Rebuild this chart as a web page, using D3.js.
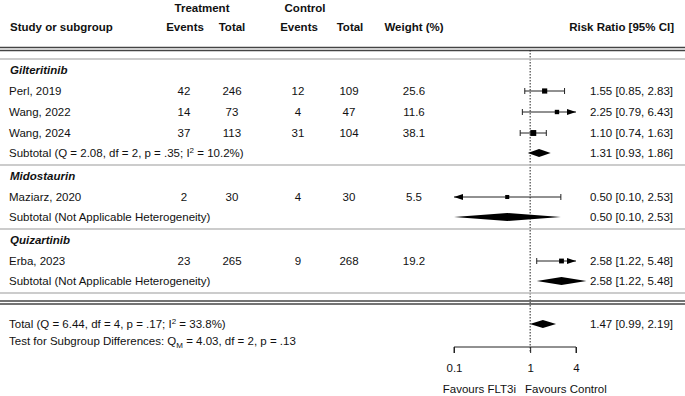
<!doctype html>
<html>
<head>
  <script src="https://cdnjs.cloudflare.com/ajax/libs/d3/7.8.5/d3.min.js"></script>
  <style>
    body { margin: 0; background: #fff; }
    text { font-family: "Liberation Sans", Arial, sans-serif; font-size: 11.5px; fill: #111; }
    .bold { font-weight: bold; }
  </style>
</head>
<body>
<svg width="685" height="396"></svg>
<script>
// subgroups
var groups = ["Gilteritinib", "Midostaurin", "Quizartinib"];
var subLabels = ["Subtotal (Q = 2.08, df = 2, p = .35; I|2| = 10.2%)",
                 "Subtotal (Not Applicable Heterogeneity)",
                 "Subtotal (Not Applicable Heterogeneity)"];
var subRR = [1.31, 0.50, 2.58];
var subLo = [0.93, 0.10, 1.22];
var subHi = [1.86, 2.53, 5.48];

// studies
var studies = ["Perl, 2019", "Wang, 2022", "Wang, 2024", "Maziarz, 2020", "Erba, 2023"];
var studyGroup = [0, 0, 0, 1, 2];
var tEvents = [42, 14, 37, 2, 23];
var tTotal = [246, 73, 113, 30, 265];
var cEvents = [12, 4, 31, 4, 9];
var cTotal = [109, 47, 104, 30, 268];
var weight = [25.6, 11.6, 38.1, 5.5, 19.2];
var rr = [1.55, 2.25, 1.10, 0.50, 2.58];
var lo = [0.85, 0.79, 0.74, 0.10, 1.22];
var hi = [2.83, 6.43, 1.63, 2.53, 5.48];

// overall
var totalLabel = "Total (Q = 6.44, df = 4, p = .17; I|2| = 33.8%)";
var testLabel = "Test for Subgroup Differences: Q_M_ = 4.03, df = 2, p = .13";
var totalRR = 1.47, totalLo = 0.99, totalHi = 2.19;

var ticks = [0.1, 1, 4];

var svg = d3.select("svg");
var x = d3.scaleLog().domain([0.1, 4]).range([454, 576]);
var sq = d3.scaleLinear().domain([5, 40]).range([4, 6]);
var fmt = d3.format(".2f");
var ciText = (r, l, h) => fmt(r) + " [" + fmt(l) + ", " + fmt(h) + "]";

// columns
var colT1 = 184, colT2 = 232, colC1 = 298, colC2 = 349, colW = 414, colRR = 673;

function txt(xp, yp, s, anchor, cls) {
  var t = svg.append("text").attr("x", xp).attr("y", yp).attr("dy", ".35em")
    .attr("text-anchor", anchor || "start");
  if (cls) t.attr("class", cls);
  // |..| superscript, _.._ subscript
  var parts = s.split(/(\|[^|]*\||_[^_]*_)/);
  var back = null;
  parts.forEach(function(p) {
    if (!p) return;
    if (p[0] === "|") {
      t.append("tspan").attr("dy", -4).style("font-size", "8px").text(p.slice(1, -1));
      back = 4;
    } else if (p[0] === "_") {
      t.append("tspan").attr("dy", 3).style("font-size", "8px").text(p.slice(1, -1));
      back = -3;
    } else {
      var ts = t.append("tspan").text(p);
      if (back) { ts.attr("dy", back); back = null; }
    }
  });
  return t;
}

function hline(yp, color, w) {
  svg.append("line").attr("x1", 0).attr("x2", 685).attr("y1", yp).attr("y2", yp)
    .attr("stroke", color).attr("stroke-width", w);
}

// header
txt(202, 8, "Treatment", "middle", "bold");
txt(305, 8, "Control", "middle", "bold");
txt(10, 27, "Study or subgroup", "start", "bold");
txt(colT1 + 1, 27, "Events", "middle", "bold");
txt(colT2, 27, "Total", "middle", "bold");
txt(colC1 + 1, 27, "Events", "middle", "bold");
txt(colC2 + 1, 27, "Total", "middle", "bold");
txt(colW, 27, "Weight (%)", "middle", "bold");
txt(674, 27, "Risk Ratio [95% CI]", "end", "bold");
hline(47.5, "#444", 1.3);
hline(50.5, "#444", 1.3);

// reference line
svg.append("line").attr("x1", x(1)).attr("x2", x(1)).attr("y1", 50).attr("y2", 353)
  .attr("stroke", "#222").attr("stroke-width", 1).attr("stroke-dasharray", "1.5,1.5");

function diamond(yp, r, l, h, hh) {
  var pts = [[x(l), yp], [x(r), yp - hh], [x(h), yp], [x(r), yp + hh]];
  svg.append("polygon").attr("points", pts.map(p => p.join(",")).join(" ")).attr("fill", "#000");
}

function arrowHead(xp, yp, dir) {
  var pts = [[xp, yp], [xp - dir * 9, yp - 3], [xp - dir * 9, yp + 3]];
  svg.append("polygon").attr("points", pts.map(p => p.join(",")).join(" ")).attr("fill", "#000");
}

function studyRow(i, yp) {
  txt(9, yp, studies[i]);
  txt(colT1, yp, String(tEvents[i]), "middle");
  txt(colT2, yp, String(tTotal[i]), "middle");
  txt(colC1, yp, String(cEvents[i]), "middle");
  txt(colC2, yp, String(cTotal[i]), "middle");
  txt(colW, yp, weight[i].toFixed(1), "middle");
  txt(colRR, yp, ciText(rr[i], lo[i], hi[i]), "end");
  var d = x.domain();
  var clipLo = lo[i] <= d[0], clipHi = hi[i] > d[1];
  var x1 = clipLo ? x(d[0]) : x(lo[i]);
  var x2 = clipHi ? x(d[1]) : x(hi[i]);
  svg.append("line").attr("x1", x1).attr("x2", x2).attr("y1", yp).attr("y2", yp)
    .attr("stroke", "#222").attr("stroke-width", 1);
  if (clipLo) arrowHead(x1, yp, -1);
  else svg.append("line").attr("x1", x1).attr("x2", x1).attr("y1", yp - 3).attr("y2", yp + 3).attr("stroke", "#222");
  if (clipHi) arrowHead(x2, yp, 1);
  else svg.append("line").attr("x1", x2).attr("x2", x2).attr("y1", yp - 3).attr("y2", yp + 3).attr("stroke", "#222");
  var s = sq(weight[i]);
  svg.append("rect").attr("x", x(rr[i]) - s / 2).attr("y", yp - s / 2)
    .attr("width", s).attr("height", s).attr("fill", "#000");
}

// groups
var y = 59;
groups.forEach(function(g, gi) {
  hline(y, "#bbb", 1.5);
  y += 11;
  txt(10, y, g, "start", "bold").style("font-style", "italic");
  studies.forEach(function(s, i) {
    if (studyGroup[i] !== gi) return;
    y += 21;
    studyRow(i, y);
  });
  y += 20;
  txt(9, y, subLabels[gi]);
  txt(colRR, y, ciText(subRR[gi], subLo[gi], subHi[gi]), "end");
  diamond(y, subRR[gi], subLo[gi], subHi[gi], 4);
  y += 12;
});
hline(y, "#bbb", 1.5);
hline(301, "#444", 1.3);
hline(304, "#444", 1.3);

// total
txt(9, 324, totalLabel);
txt(colRR, 324, ciText(totalRR, totalLo, totalHi), "end");
diamond(324, totalRR, totalLo, totalHi, 4);
txt(9, 341, testLabel);

// axis
var axisY = 347;
var ax = svg.append("g").attr("transform", "translate(0," + axisY + ")")
  .call(d3.axisBottom(x).tickValues(ticks).tickFormat(d => String(d)).tickSize(6).tickPadding(11));
ax.select(".domain").attr("stroke", "#222").attr("d", "M" + x(0.1) + ",6V0H" + x(4) + "V6");
ax.selectAll(".tick line").attr("stroke", "#222");
ax.selectAll(".tick text").style("font-size", "11.5px").attr("fill", "#111");
txt(516, 389, "Favours FLT3i", "end");
txt(525, 389, "Favours Control", "start");
</script>
</body>
</html>
